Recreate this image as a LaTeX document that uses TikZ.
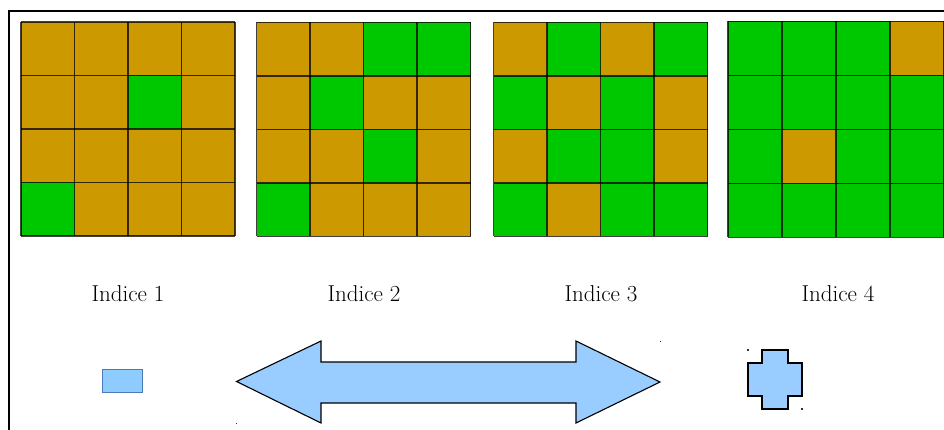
\documentclass[tikz,border=0pt]{standalone}
\usepackage{tikz}
\usetikzlibrary{positioning}
\usepackage{xcolor}
\definecolor{cellgreen}{HTML}{00C800}
\definecolor{cellbrown}{HTML}{CC9900}
\definecolor{shapeblue}{HTML}{99CCFF}
\definecolor{boxblue}{HTML}{8ECBFF}
\definecolor{boxedge}{HTML}{4A7AB8}
\tikzset{
  gridline/.style={black, opacity=0.75, line width=1.8pt},
  frameline/.style={black, line width=2pt},
  indexlabel/.style={font=\fontsize{23}{27}\selectfont, anchor=base},
  blueshape/.style={fill=shapeblue, draw=black, line width=1.1pt, line join=miter},
  handle/.style={fill=black!80}
}
% #1,#2 top left corner, #3 cell size, #4 base colour, #5 other colour, #6 col/row list of other cells
\newcommand{\indexgrid}[6]{%
  \fill[#4] (#1,#2) rectangle +(4*#3,4*#3);
  \foreach \c/\r in {#6}
    \fill[#5] ({#1+(\c-1)*#3},{#2+(\r-1)*#3}) rectangle +(#3,#3);
  \foreach \k in {0,...,4} {
    \draw[gridline] ({#1+\k*#3},#2) -- +(0,4*#3);
    \draw[gridline] (#1,{#2+\k*#3}) -- +(4*#3,0);
  }
}

\begin{document}
\begin{tikzpicture}[x=1pt, y=-1pt]
\useasboundingbox (0,0) rectangle (944,430);

% frame
\draw[frameline] (9,432) -- (9,11) -- (946,11);

% the four grids
\indexgrid{21}{22}{53.5}{cellbrown}{cellgreen}{3/2, 1/4}
\indexgrid{256.5}{22.5}{53.5}{cellbrown}{cellgreen}{3/1, 4/1, 2/2, 3/3, 1/4}
\indexgrid{493.5}{22.5}{53.5}{cellbrown}{cellgreen}{2/1, 4/1, 1/2, 3/2, 2/3, 3/3, 1/4, 3/4, 4/4}
\indexgrid{728}{21.5}{54}{cellgreen}{cellbrown}{4/1, 2/3}

% labels
\foreach \x/\n in {128/1, 364/2, 601/3, 838/4}
  \node[indexlabel] (indice\n) at (\x,301) {Indice \n};

% small rectangle
\draw[fill=boxblue, draw=boxedge, line width=1pt] (102,369) rectangle (142.5,392.5);

% double arrow
\draw[blueshape] (236.5,381.5) -- (321,341) -- (321,362) -- (576,362) -- (576,341)
  -- (660,382) -- (576,423) -- (576,403) -- (321,403) -- (321,423) -- cycle;

% cross
\draw[blueshape, line width=1.5pt] (762,350) -- (788,350) -- (788,363) -- (802,363)
  -- (802,396) -- (788,396) -- (788,409) -- (762,409) -- (762,396) -- (748,396)
  -- (748,363) -- (762,363) -- cycle;

% selection handles
\foreach \x/\y in {660.5/341.5, 236.5/423.5, 748/350, 802/409}
  \fill[handle] (\x-0.8,\y-0.8) rectangle +(1.6,1.6);
\end{tikzpicture}
\end{document}
